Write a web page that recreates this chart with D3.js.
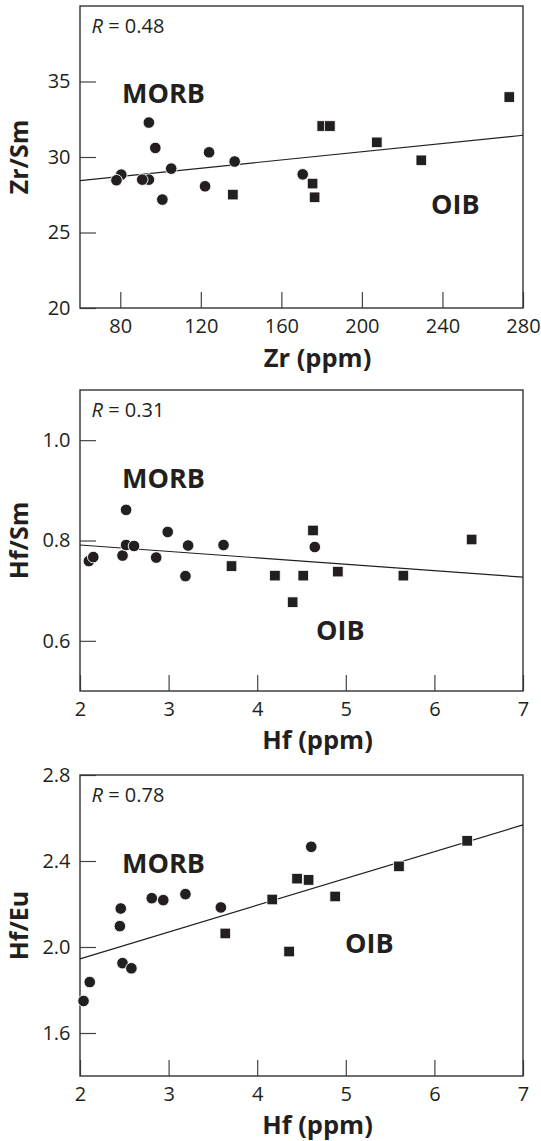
<!DOCTYPE html>
<html><head><meta charset="utf-8">
<script src="https://cdn.jsdelivr.net/npm/d3@7"></script>
<style>
html,body{margin:0;padding:0;background:#fff;}
svg text{font-family:"Open Sans",sans-serif;fill:#231f20;}
</style></head>
<body><svg id="c" width="541" height="1141"></svg>
<script>
// ---- Panel 1: Zr/Sm vs Zr ----
const p1MorbX = [80.5, 78.1, 94.2, 90.9, 94.2, 97.4, 105.3, 100.9, 122.1, 124.1, 136.8, 170.6];
const p1MorbY = [28.83, 28.46, 28.50, 28.50, 32.28, 30.60, 29.23, 27.18, 28.06, 30.31, 29.70, 28.85];
const p1OibX = [135.9, 175.5, 176.5, 180.3, 184.1, 207.4, 229.5, 273.2];
const p1OibY = [27.51, 28.24, 27.33, 32.05, 32.05, 30.97, 29.78, 33.97];
const p1LineX = [60, 280];
const p1LineY = [28.44, 31.44];
const p1XTicks = [80, 120, 160, 200, 240, 280];
const p1YTicks = [20, 25, 30, 35];

// ---- Panel 2: Hf/Sm vs Hf ----
const p2MorbX = [2.10, 2.15, 2.48, 2.52, 2.52, 2.61, 2.86, 2.99, 3.22, 3.19, 3.62, 4.65];
const p2MorbY = [0.759, 0.767, 0.770, 0.861, 0.791, 0.789, 0.766, 0.817, 0.790, 0.729, 0.791, 0.787];
const p2OibX = [3.71, 4.20, 4.52, 4.40, 4.63, 4.91, 5.65, 6.42];
const p2OibY = [0.749, 0.730, 0.730, 0.677, 0.820, 0.738, 0.730, 0.802];
const p2LineX = [2, 7];
const p2LineY = [0.791, 0.727];
const hfXTicks = [2, 3, 4, 5, 6, 7];
const p2YTicks = [0.6, 0.8, 1.0];

// ---- Panel 3: Hf/Eu vs Hf ----
const p3MorbX = [2.04, 2.11, 2.48, 2.58, 2.45, 2.46, 2.81, 2.94, 3.19, 3.59, 4.61];
const p3MorbY = [1.749, 1.837, 1.925, 1.901, 2.097, 2.179, 2.227, 2.218, 2.246, 2.184, 2.466];
const p3OibX = [3.64, 4.36, 4.17, 4.45, 4.58, 4.88, 5.60, 6.37];
const p3OibY = [2.063, 1.979, 2.221, 2.318, 2.312, 2.235, 2.375, 2.494];
const p3LineX = [2, 7];
const p3LineY = [1.945, 2.568];
const p3YTicks = [1.6, 2.0, 2.4, 2.8];

const panels = [
  {xDom:[60,280], yDom:[20,40], xTicks:p1XTicks, yTicks:p1YTicks, yFmt:d3.format("d"),
   mx:p1MorbX, my:p1MorbY, ox:p1OibX, oy:p1OibY, lx:p1LineX, ly:p1LineY,
   r:"0.48", xTitle:"Zr (ppm)", yTitle:"Zr/Sm", top:6, bottom:308,
   morb:[122, 102.7], oib:[431, 214], titleBase:367},
  {xDom:[2,7], yDom:[0.5,1.1], xTicks:hfXTicks, yTicks:p2YTicks, yFmt:d3.format(".1f"),
   mx:p2MorbX, my:p2MorbY, ox:p2OibX, oy:p2OibY, lx:p2LineX, ly:p2LineY,
   r:"0.31", xTitle:"Hf (ppm)", yTitle:"Hf/Sm", top:390, bottom:691,
   morb:[122, 488.3], oib:[316, 640], titleBase:749},
  {xDom:[2,7], yDom:[1.4,2.8], xTicks:hfXTicks, yTicks:p3YTicks, yFmt:d3.format(".1f"),
   mx:p3MorbX, my:p3MorbY, ox:p3OibX, oy:p3OibY, lx:p3LineX, ly:p3LineY,
   r:"0.78", xTitle:"Hf (ppm)", yTitle:"Hf/Eu", top:775, bottom:1076,
   morb:[122, 873.3], oib:[345, 952.7], titleBase:1133.5}
];

const svg = d3.select("#c");
const L = 80, R = 523;
const ink = "#231f20";

panels.forEach(p => {
  const x = d3.scaleLinear().domain(p.xDom).range([L, R]);
  const y = d3.scaleLinear().domain(p.yDom).range([p.bottom, p.top]);
  const g = svg.append("g");

  // axes
  const xa = g.append("g").attr("transform", `translate(0,${p.bottom})`)
    .call(d3.axisBottom(x).tickValues(p.xTicks).tickFormat(d3.format("d")).tickSizeInner(-16).tickSizeOuter(0).tickPadding(10.5));
  const ya = g.append("g").attr("transform", `translate(${L},0)`)
    .call(d3.axisLeft(y).tickValues(p.yTicks).tickFormat(p.yFmt).tickSizeInner(-16).tickSizeOuter(0).tickPadding(9.5));
  [xa, ya].forEach(a => {
    a.select(".domain").remove();
    a.selectAll("line").attr("stroke", "#444").attr("stroke-width", 1.2);
    a.selectAll("text").style("font-size", "20px").style("font-family", "'Open Sans',sans-serif").attr("fill", ink);
  });

  // frame
  g.append("rect").attr("x", L).attr("y", p.top).attr("width", R - L).attr("height", p.bottom - p.top)
    .attr("fill", "none").attr("stroke", "#333").attr("stroke-width", 1.4);

  // regression line
  g.append("line").attr("x1", x(p.lx[0])).attr("y1", y(p.ly[0]))
    .attr("x2", x(p.lx[1])).attr("y2", y(p.ly[1]))
    .attr("stroke", ink).attr("stroke-width", 1.2);

  // OIB squares
  const s = 10.6;
  g.selectAll(".sq").data(p.ox.map((v, i) => [v, p.oy[i]])).enter().append("rect")
    .attr("x", d => x(d[0]) - s / 2).attr("y", d => y(d[1]) - s / 2)
    .attr("width", s).attr("height", s).attr("fill", ink).attr("stroke", "#fff").attr("stroke-width", 0.8);
  // MORB circles
  g.selectAll(".ci").data(p.mx.map((v, i) => [v, p.my[i]])).enter().append("circle")
    .attr("cx", d => x(d[0])).attr("cy", d => y(d[1])).attr("r", 5.8)
    .attr("fill", ink).attr("stroke", "#fff").attr("stroke-width", 0.9);

  // R label
  const t = g.append("text").attr("x", 91.5).attr("y", p.top + 26.5).style("font-size", "20px");
  t.append("tspan").style("font-style", "italic").text("R");
  t.append("tspan").text(" = " + p.r);

  // group labels
  g.append("text").attr("x", p.morb[0]).attr("y", p.morb[1]).style("font-size", "27px").style("font-weight", "bold").text("MORB");
  g.append("text").attr("x", p.oib[0]).attr("y", p.oib[1]).style("font-size", "27px").style("font-weight", "bold").text("OIB");

  // axis titles
  g.append("text").attr("x", 317.5).attr("y", p.titleBase).attr("text-anchor", "middle")
    .style("font-size", "25.5px").style("font-weight", "bold").text(p.xTitle);
  g.append("text").attr("transform", `translate(28,${(p.top + p.bottom) / 2}) rotate(-90)`)
    .attr("text-anchor", "middle").style("font-size", "25px").style("font-weight", "bold").text(p.yTitle);
});
</script></body></html>
